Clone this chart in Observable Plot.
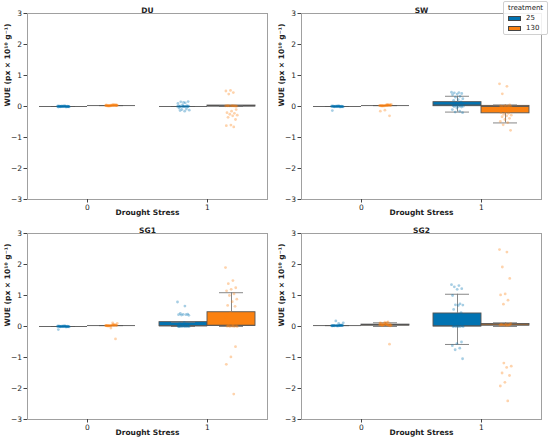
<!DOCTYPE html>
<html>
<head>
<meta charset="utf-8">
<script src="https://cdn.jsdelivr.net/npm/d3@7"></script>
<script src="https://cdn.jsdelivr.net/npm/@observablehq/plot@0.6"></script>
<style>
  html, body { margin: 0; padding: 0; background: #fff; }
  #fig { position: relative; width: 550px; height: 443px; font-family: "DejaVu Sans", sans-serif; }
  .panel { position: absolute; }
  #legend { position: absolute; left: 503px; top: 1px; width: 45px; height: 34px; border: 1px solid #d0d0d0; border-radius: 2px; background: rgba(255,255,255,0.85); font-size: 7px; color: #222; box-sizing: border-box; }
  #legend .t { position: absolute; left: 4px; top: 2px; }
  #legend .row { position: absolute; left: 4px; height: 8px; display: flex; align-items: center; }
  #legend .sw { width: 13px; height: 5px; border: 0.8px solid #444; margin-right: 5px; box-sizing: border-box; }
</style>
</head>
<body>
<div id="fig"></div>
<script>
// ---------- data ----------
const panels = ["DU", "SW", "SG1", "SG2"];
const stressLevels = [0, 1];
const treatments = [25, 130];
// group order inside each panel: [stress0/25, stress0/130, stress1/25, stress1/130]
const boxQ1  = [[0, 0.03, 0, 0.0],  [0, 0.03, 0.01, -0.22], [0, 0.03, 0.01, 0.02], [0.03, 0.03, 0.0, 0.03]];
const boxMed = [[0, 0.03, 0, 0.02], [0, 0.03, 0.05, 0.0],   [0, 0.03, 0.02, 0.04], [0.03, 0.05, 0.02, 0.05]];
const boxQ3  = [[0, 0.03, 0, 0.03], [0, 0.03, 0.14, 0.02],  [0, 0.03, 0.14, 0.46], [0.03, 0.06, 0.42, 0.08]];
const whiskLo = [[0, 0.03, 0, 0.0], [0, 0.03, -0.18, -0.53], [0, 0.03, 0.0, 0.0], [0.03, 0.0, -0.58, 0.0]];
const whiskHi = [[0, 0.03, 0, 0.03], [0, 0.03, 0.33, 0.05], [0, 0.03, 0.14, 1.09], [0.03, 0.12, 1.04, 0.12]];

const DU_0_25 = [0.0,0.01,-0.01,0.0,0.02,0.0,-0.02,0.01,0.0,0.0,0.01,-0.01,0.0,0.02,0.01,0.0,-0.01,0.0,0.01,0.0,0.0,-0.01,0.02,0.0,0.01,0.0,-0.02,0.0,0.01,0.0];
const DU_0_130 = [0.03,0.04,0.02,0.05,0.03,0.03,0.04,0.02,0.03,0.05,0.03,0.04,0.02,0.03,0.06,0.03,0.04,0.03,0.02,0.05,0.03,0.04,0.03,0.02,0.03,0.04,0.05,0.03,0.02,0.04];
const DU_1_25 = [0,0,0.01,-0.01,0,0.02,0,-0.02,0.01,0,0,0.03,0.05,0.1,0.12,0.15,0.16,0.13,-0.05,-0.08,-0.1,-0.12,-0.15,-0.13,0,0.01];
const DU_1_130 = [0.02,0.02,0.03,0.01,0.02,0.03,0.02,0.02,0.01,0.03,0.02,0.02,0.52,0.5,0.45,0.4,-0.1,-0.15,-0.2,-0.22,-0.25,-0.28,-0.3,-0.35,-0.42,-0.6,-0.62,-0.66];

const SW_0_25 = [0.0,0.01,-0.01,0.0,0.02,0.0,-0.02,0.01,0.0,0.0,0.01,-0.01,0.0,0.02,0.01,0.0,-0.01,0.0,0.01,0.0,0.0,-0.01,0.02,0.0,0.01,0.0,-0.13,0.0];
const SW_0_130 = [0.03,0.04,0.02,0.05,0.03,0.03,0.04,0.02,0.03,0.05,0.03,0.04,0.02,0.03,0.06,0.03,0.04,0.03,0.02,0.05,0.03,0.07,0.03,0.02,-0.3,-0.12,-0.15,0.04];
const SW_1_25 = [0.46,0.45,0.44,0.42,0.4,0.38,0.33,0.3,0.25,0.22,0.2,0.15,0.12,0.1,0.08,0.06,0.05,0.04,0.03,0.02,0.02,0.01,0,0,-0.02,-0.05,-0.1,-0.15,-0.18,-0.2];
const SW_1_130 = [0.73,0.65,0.41,0.05,0.03,0.02,0.02,0.01,0,0,0,-0.02,-0.05,-0.08,-0.1,-0.12,-0.15,-0.18,-0.2,-0.22,-0.25,-0.28,-0.3,-0.33,-0.38,-0.42,-0.48,-0.52,-0.59,-0.77];

const SG1_0_25 = [0.0,0.01,-0.01,0.0,0.02,0.0,-0.02,0.01,0.0,0.0,0.01,-0.01,0.0,0.02,0.01,0.0,-0.01,0.0,0.01,0.0,0.0,-0.01,0.02,0.0,0.01,0.0,-0.1,0.0];
const SG1_0_130 = [0.03,0.04,0.02,0.05,0.03,0.03,0.04,0.02,0.03,0.05,0.03,0.04,0.02,0.03,0.06,0.03,0.04,0.03,0.02,0.05,0.03,0.1,0.12,0.02,-0.4,-0.05,0.03,0.04];
const SG1_1_25 = [0.79,0.66,0.42,0.4,0.39,0.38,0.38,0.37,0.36,0.13,0.1,0.08,0.05,0.03,0.02,0.02,0.01,0.01,0,0,0,0,0,0,0.01,0.02,0];
const SG1_1_130 = [1.9,1.48,1.38,1.25,1.2,1.15,1.05,1.0,0.88,0.8,0.68,0.65,0.45,0.3,0.05,0.03,0.02,0.02,0.01,0,0,0,0.01,0.02,-0.65,-0.98,-1.22,-2.18];

const SG2_0_25 = [0.03,0.04,0.02,0.03,0.03,0.02,0.04,0.03,0.03,0.02,0.03,0.04,0.03,0.02,0.03,0.03,0.04,0.02,0.03,0.03,0.18,0.12,0.1,0.03,0.04,0.02,0.03,0.03];
const SG2_0_130 = [0.05,0.06,0.04,0.08,0.1,0.12,0.15,0.05,0.03,0.07,0.09,0.04,0.06,0.11,0.13,0.05,0.02,0.08,0.06,0.04,0.1,0.05,0.07,0.03,-0.57,0.14,0.06,0.05];
const SG2_1_25 = [1.35,1.32,1.28,1.22,1.2,1.0,0.73,0.7,0.69,0.68,0.55,0.45,0.3,0.2,0.1,0.05,0.02,0.01,0,0,0,0,0,0.01,-0.5,-0.55,-0.62,-0.7,-0.75,-1.04];
const SG2_1_130 = [2.48,2.4,1.92,1.55,1.05,1.02,0.85,0.72,0.1,0.08,0.06,0.05,0.05,0.04,0.03,0.05,0.06,0.04,0.07,0.05,-1.18,-1.28,-1.32,-1.5,-1.58,-1.8,-1.92,-2.4];

const pointSets = [
  [DU_0_25, DU_0_130, DU_1_25, DU_1_130],
  [SW_0_25, SW_0_130, SW_1_25, SW_1_130],
  [SG1_0_25, SG1_0_130, SG1_1_25, SG1_1_130],
  [SG2_0_25, SG2_0_130, SG2_1_25, SG2_1_130]
];
const yTicks = [-3, -2, -1, 0, 1, 2, 3];

// ---------- styling / layout ----------
const colors = ["#0173b2", "#fb8110"];
const lineGray = "#555";
const fontFamily = "DejaVu Sans, sans-serif";
const boxW = 0.4, capW = 0.2, jitterW = 0.1;
const places = [
  {left: 0, top: 0, ml: 27, mr: 8},
  {left: 275, top: 0, ml: 26, mr: 9},
  {left: 0, top: 220, ml: 27, mr: 8},
  {left: 275, top: 220, ml: 26, mr: 9}
];
const fmt = d => d < 0 ? "\u2212" + Math.abs(d) : String(d);

const fig = document.getElementById("fig");

panels.forEach((name, p) => {
  const groups = [];
  stressLevels.forEach((s, si) => treatments.forEach((t, ti) => {
    const g = si * 2 + ti;
    const cx = s + (ti === 0 ? -boxW / 2 : boxW / 2);
    groups.push({stress: s, treatment: t, ti, cx,
      q1: boxQ1[p][g], med: boxMed[p][g], q3: boxQ3[p][g], lo: whiskLo[p][g], hi: whiskHi[p][g]});
  }));
  const pts = [];
  groups.forEach((gr, g) => {
    pointSets[p][g].forEach((v, i) => {
      const jit = (((i * 0.6180339887) % 1) - 0.5) * jitterW;
      pts.push({x: gr.cx + jit, y: v, ti: gr.ti});
    });
  });

  const pl = places[p];
  const chart = Plot.plot({
    width: 275, height: 220,
    marginLeft: pl.ml, marginRight: pl.mr, marginTop: 13, marginBottom: 21,
    style: {fontFamily, fontSize: "7.5px", color: "#222", background: "transparent"},
    x: {domain: [-0.5, 1.5]},
    y: {domain: [-3, 3]},
    marks: [
      Plot.rect(groups, {x1: d => d.cx - boxW / 2, x2: d => d.cx + boxW / 2, y1: "q1", y2: "q3",
        fill: d => colors[d.ti], stroke: lineGray, strokeWidth: 0.9}),
      Plot.ruleX(groups, {x: "cx", y1: "lo", y2: "q1", stroke: "#7a7a7a", strokeWidth: 0.9}),
      Plot.ruleX(groups, {x: "cx", y1: "q3", y2: "hi", stroke: "#7a7a7a", strokeWidth: 0.9}),
      Plot.ruleY(groups, {y: "lo", x1: d => d.cx - capW / 2, x2: d => d.cx + capW / 2, stroke: "#7a7a7a", strokeWidth: 0.9}),
      Plot.ruleY(groups, {y: "hi", x1: d => d.cx - capW / 2, x2: d => d.cx + capW / 2, stroke: "#7a7a7a", strokeWidth: 0.9}),
      Plot.ruleY(groups, {y: "med", x1: d => d.cx - boxW / 2, x2: d => d.cx + boxW / 2, stroke: lineGray, strokeWidth: 0.9}),
      Plot.dot(pts, {x: "x", y: "y", r: 1.4, fill: d => colors[d.ti], fillOpacity: 0.35, stroke: "none"}),
      Plot.frame({stroke: "#a0a0a0", strokeWidth: 1}),
      Plot.axisX({ticks: stressLevels, tickFormat: fmt, tickSize: 3.5, tickPadding: 2, label: null, stroke: "#444"}),
      Plot.axisY({ticks: yTicks, tickFormat: fmt, tickSize: 3.5, tickPadding: 2, label: null, stroke: "#444"}),
      Plot.text([name], {text: d => d, frameAnchor: "top", dy: -6, fontWeight: "bold", fontSize: 7.5}),
      Plot.text(["Drought Stress"], {text: d => d, frameAnchor: "bottom", dy: 15, fontWeight: "bold", fontSize: 7.5}),
      Plot.text(["WUE (px \u00d7 10\u00b9\u2070 g\u207b\u00b9)"], {text: d => d, frameAnchor: "left", dx: -20, rotate: -90, fontWeight: "bold", fontSize: 7.5})
    ]
  });
  chart.classList.add("panel");
  chart.style.left = pl.left + "px";
  chart.style.top = pl.top + "px";
  fig.appendChild(chart);
});

// legend
const leg = document.createElement("div");
leg.id = "legend";
leg.innerHTML = '<div class="t">treatment</div>' + treatments.map((t, i) =>
  `<div class="row" style="top:${12 + i * 10}px"><div class="sw" style="background:${colors[i]}"></div>${t}</div>`).join("");
fig.appendChild(leg);
</script>
</body>
</html>
